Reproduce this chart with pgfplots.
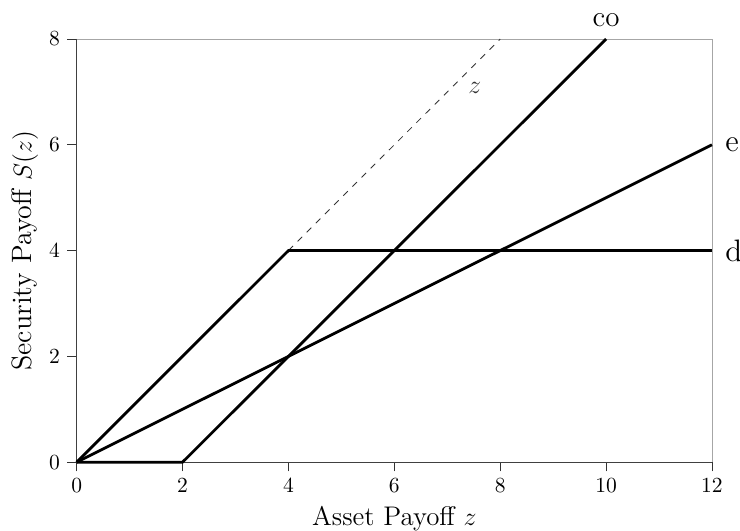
\documentclass[border=0pt]{standalone}
\usepackage{pgfplots}
\pgfplotsset{compat=1.18}
\begin{document}
\begin{tikzpicture}
\begin{axis}[
  name=ax,
  scale only axis,
  width=295pt, height=196.5pt,
  xmin=0, xmax=12, ymin=0, ymax=8,
  xtick={0,2,...,12}, ytick={0,2,...,8},
  tick align=outside,
  tick pos=left,
  axis line style={draw=none},
  major tick style={black!80, thin},
  xlabel={\fontsize{12.5}{15}\selectfont Asset Payoff $z$},
  ylabel={\fontsize{13}{15}\selectfont Security Payoff $S(z)$},
  xlabel style={at={(axis description cs:0.5,0)}, anchor=base, yshift=-29.3pt},
  ylabel style={at={(axis description cs:0,0.5)}, anchor=base, yshift=20.9pt},
  clip=false,
]
% frame: top/right grey, left/bottom dark
\addplot[gray!70, thin] coordinates {(0,8) (12,8) (12,0)};
\addplot[black!75, thin] coordinates {(0,8) (0,0) (12,0)};
% z dashed
\addplot[black!80, thin, dashed] coordinates {(4,4) (8,8)};
% d
\addplot[black, line width=1.3pt] coordinates {(0,0) (4,4) (12,4)};
% e
\addplot[black, line width=1.3pt] coordinates {(0,0) (12,6)};
% co
\addplot[black, line width=1.3pt] coordinates {(0,0) (2,0) (10,8)};
\node[anchor=base, font=\fontsize{13.5}{16}\selectfont, inner sep=0pt, yshift=5.6pt] at (axis cs:10,8) {co};
\node[anchor=west, font=\Large, inner sep=0pt, xshift=6pt] at (axis cs:12,6) {e};
\node[anchor=west, font=\Large, inner sep=0pt, xshift=6pt] at (axis cs:12,4) {d};
\node[font=\large, text=black!80, inner sep=0pt] at (axis cs:7.52,7.08) {$z$};
\end{axis}
\pgfresetboundingbox
\path ([shift={(-35.6pt,-31.6pt)}]ax.south west) rectangle ([shift={(13pt,18.1pt)}]ax.north east);
\end{tikzpicture}
\end{document}
